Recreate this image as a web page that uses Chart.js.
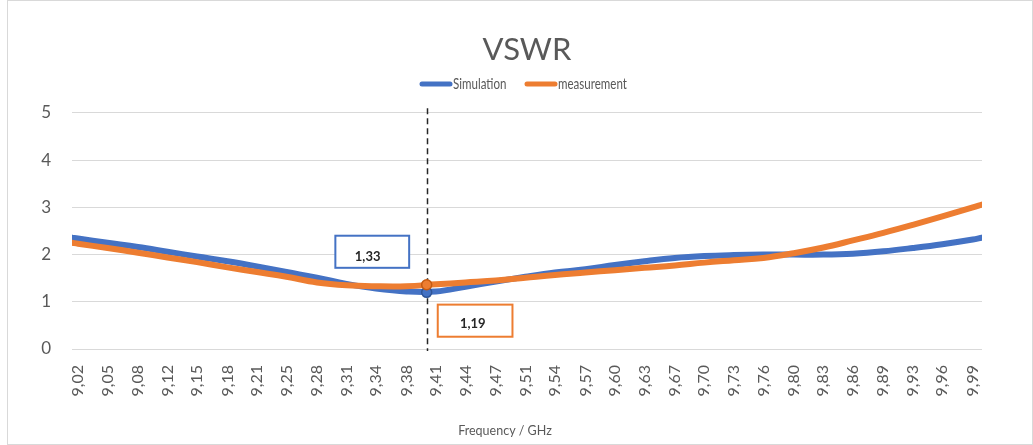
<!DOCTYPE html>
<html lang="en">
<head>
<meta charset="UTF-8">
<title>VSWR</title>
<script src="https://cdn.jsdelivr.net/npm/chart.js"></script>
<style>
  body { margin: 0; background: #fff; }
  .wrap { width: 1033px; height: 445px; position: relative; }
</style>
</head>
<body>
<div class="wrap"><canvas id="vswr"></canvas></div>
<script>
// frequency of every data point (GHz)
const freqs = [9.0135, 9.020, 9.052, 9.085, 9.117, 9.149, 9.182, 9.214, 9.246, 9.279, 9.311,
  9.343, 9.376, 9.408, 9.440, 9.473, 9.505, 9.537, 9.570, 9.602, 9.634, 9.667, 9.699,
  9.731, 9.763, 9.796, 9.828, 9.860, 9.893, 9.925, 9.957, 9.990, 10.000];
const simulation = [2.36, 2.34, 2.25, 2.16, 2.06, 1.96, 1.86, 1.75, 1.63, 1.51, 1.38,
  1.28, 1.22, 1.22, 1.32, 1.43, 1.53, 1.62, 1.69, 1.78, 1.86, 1.93, 1.97,
  1.99, 2.00, 2.00, 2.00, 2.02, 2.07, 2.14, 2.22, 2.32, 2.36];
const measurement = [2.25, 2.23, 2.14, 2.04, 1.94, 1.84, 1.73, 1.63, 1.53, 1.41, 1.35,
  1.33, 1.33, 1.37, 1.41, 1.45, 1.51, 1.57, 1.62, 1.67, 1.72, 1.77, 1.83,
  1.88, 1.93, 2.03, 2.15, 2.30, 2.46, 2.63, 2.81, 3.00, 3.06];

const tickFreqs = freqs.slice(1, 32);
const tickLabels = ['9,02', '9,05', '9,08', '9,12', '9,15', '9,18', '9,21', '9,25', '9,28', '9,31',
  '9,34', '9,38', '9,41', '9,44', '9,47', '9,51', '9,54', '9,57', '9,60', '9,63', '9,67',
  '9,70', '9,73', '9,76', '9,80', '9,83', '9,86', '9,89', '9,93', '9,96', '9,99'];

// marked point
const markerFreq = 9.398;
const markerSim = 1.20;
const markerMeas = 1.36;

const grey = '#595959';
const blue = '#4472C4';
const orange = '#ED7D31';

const annotations = {
    id: 'annotations',
    beforeDraw(chart) {
        const ctx = chart.ctx;
        ctx.save();
        ctx.strokeStyle = '#d9d9d9';
        ctx.lineWidth = 1;
        ctx.strokeRect(7.5, 0.5, 1025, 444);
        ctx.restore();
    },
    beforeDatasetsDraw(chart) {
        const { ctx, scales: { x, y } } = chart;
        const px = Math.round(x.getPixelForValue(markerFreq)) + 0.5;
        ctx.save();
        ctx.strokeStyle = '#262626';
        ctx.lineWidth = 1.5;
        ctx.setLineDash([6, 4]);
        ctx.beginPath();
        ctx.moveTo(px, y.getPixelForValue(5.1));
        ctx.lineTo(px, y.getPixelForValue(0) + 2);
        ctx.stroke();
        ctx.restore();
    },
    afterDatasetsDraw(chart) {
        const { ctx, scales: { x, y } } = chart;
        const boxes = [
            { x0: 9.299, x1: 9.379, y0: 2.40, y1: 1.72, tx: 9.334, ty: 1.96, text: '1,33', color: blue },
            { x0: 9.410, x1: 9.491, y0: 0.94, y1: 0.26, tx: 9.448, ty: 0.53, text: '1,19', color: orange }
        ];
        ctx.save();
        boxes.forEach(b => {
            const l = x.getPixelForValue(b.x0), r = x.getPixelForValue(b.x1);
            const t = y.getPixelForValue(b.y0), btm = y.getPixelForValue(b.y1);
            ctx.fillStyle = '#fff';
            ctx.fillRect(l, t, r - l, btm - t);
            ctx.strokeStyle = b.color;
            ctx.lineWidth = 2;
            ctx.strokeRect(l, t, r - l, btm - t);
            ctx.fillStyle = '#262626';
            ctx.font = 'bold 13px Lato';
            ctx.textAlign = 'center';
            ctx.textBaseline = 'middle';
            ctx.fillText(b.text, x.getPixelForValue(b.tx), y.getPixelForValue(b.ty));
        });
        ctx.restore();
    },
    afterDraw(chart) {
        const ctx = chart.ctx;
        ctx.save();
        ctx.fillStyle = grey;
        ctx.font = '12.5px Lato';
        ctx.textAlign = 'center';
        ctx.textBaseline = 'middle';
        ctx.fillText('Frequency / GHz', 505, 431);

        // legend, condensed text
        const items = [
            { ds: chart.data.datasets[0], x: 420 },
            { ds: chart.data.datasets[1], x: 525 }
        ];
        const ly = 84;
        items.forEach(it => {
            ctx.strokeStyle = it.ds.borderColor;
            ctx.lineWidth = 5;
            ctx.lineCap = 'round';
            ctx.beginPath();
            ctx.moveTo(it.x + 2, ly);
            ctx.lineTo(it.x + 30, ly);
            ctx.stroke();
            ctx.save();
            ctx.translate(it.x + 33, ly);
            ctx.scale(0.77, 1);
            ctx.font = '15px Lato';
            ctx.fillStyle = grey;
            ctx.textAlign = 'left';
            ctx.textBaseline = 'middle';
            ctx.fillText(it.ds.label, 0, 0);
            ctx.restore();
        });
        ctx.restore();
    }
};

new Chart(document.getElementById('vswr'), {
    type: 'line',
    data: {
        datasets: [
            {
                label: 'Simulation',
                data: freqs.map((f, i) => ({ x: f, y: simulation[i] })),
                borderColor: blue,
                backgroundColor: blue,
                borderWidth: 6,
                borderCapStyle: 'round',
                pointRadius: 0,
                tension: 0.4,
                order: 3
            },
            {
                label: 'measurement',
                data: freqs.map((f, i) => ({ x: f, y: measurement[i] })),
                borderColor: orange,
                backgroundColor: orange,
                borderWidth: 6,
                borderCapStyle: 'round',
                pointRadius: 0,
                tension: 0.4,
                order: 2
            },
            {
                label: 'sim marker',
                data: [{ x: markerFreq, y: markerSim }],
                showLine: false,
                pointRadius: 5,
                pointBackgroundColor: blue,
                pointBorderColor: '#2F5597',
                pointBorderWidth: 1.5,
                order: 1
            },
            {
                label: 'meas marker',
                data: [{ x: markerFreq, y: markerMeas }],
                showLine: false,
                pointRadius: 5,
                pointBackgroundColor: orange,
                pointBorderColor: '#C55A11',
                pointBorderWidth: 1.5,
                order: 0
            }
        ]
    },
    options: {
        responsive: true,
        maintainAspectRatio: false,
        animation: false,
        layout: { padding: { left: 0, right: 51, top: 0, bottom: 0 } },
        plugins: {
            title: {
                display: true,
                text: 'VSWR',
                fullSize: false,
                color: grey,
                font: { family: 'Lato', size: 31, weight: 'normal' },
                padding: { top: 31, bottom: 0 }
            },
            legend: { display: false },
            subtitle: {
                display: true,
                text: '',
                fullSize: false,
                weight: 500,
                font: { size: 2 },
                padding: { top: 42.4, bottom: 0 }
            },
            tooltip: { enabled: false }
        },
        scales: {
            x: {
                type: 'linear',
                min: 9.0135,
                max: 10.0,
                afterBuildTicks: scale => { scale.ticks = tickFreqs.map(v => ({ value: v })); },
                afterFit: scale => { scale.height = 96; },
                ticks: {
                    autoSkip: false,
                    maxRotation: 90,
                    minRotation: 90,
                    padding: 16,
                    color: grey,
                    font: { family: 'Lato', size: 16 },
                    callback: (value, index) => tickLabels[index]
                },
                grid: { display: false, drawTicks: false },
                border: { display: false }
            },
            y: {
                min: 0,
                max: 5,
                afterFit: scale => { scale.width = 72; },
                ticks: {
                    stepSize: 1,
                    padding: 21,
                    color: grey,
                    font: { family: 'Lato', size: 17 }
                },
                grid: { color: '#d9d9d9', lineWidth: 1, drawTicks: false },
                border: { display: false }
            }
        }
    },
    plugins: [annotations]
});
</script>
</body>
</html>
